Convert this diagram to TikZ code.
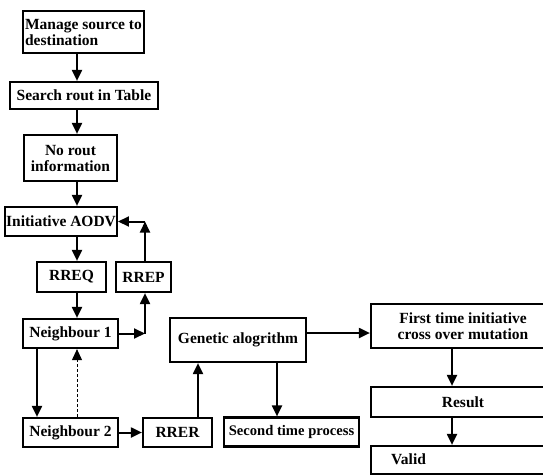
\documentclass[tikz,border=0pt]{standalone}
\usepackage{fontspec}
\setmainfont{Liberation Serif}
\usetikzlibrary{arrows.meta}
\begin{document}
\begin{tikzpicture}[x=1pt,y=-1pt,
  box/.style={draw,line width=2.2pt,inner sep=1pt,font=\bfseries\fontsize{15.5}{16}\selectfont,align=center},
  arr/.style={line width=2pt,-{Triangle[length=11pt,width=10pt]}},
  darr/.style={line width=1pt,densely dashed,-{Triangle[length=11pt,width=10pt]}}]
\useasboundingbox (0,0) rectangle (543,474);
\clip (0,0) rectangle (543,474);
\node[box,minimum width=121pt,minimum height=42pt,align=left] (ms) at (83.5,32) {Manage source to\\destination};
\node[box,minimum width=148pt,minimum height=27pt] (srch) at (84,95.5) {Search rout in Table};
\node[box,minimum width=93pt,minimum height=46pt] (nori) at (70.5,158) {No rout\\information};
\node[box,minimum width=110pt,minimum height=29pt] (aodv) at (61,221.5) {Initiative AODV};
\node[box,minimum width=69pt,minimum height=30pt] (rreq) at (71.5,277) {RREQ};
\node[box,minimum width=55pt,minimum height=30pt] (rrep) at (143.5,277) {RREP};
\node[box,minimum width=95pt,minimum height=29pt] (n1) at (70.5,333.5) {Neighbour 1};
\node[box,minimum width=95pt,minimum height=29pt] (n2) at (70.5,432.5) {Neighbour 2};
\node[box,minimum width=69pt,minimum height=29pt] (rrer) at (177.5,432.5) {RRER};
\node[box,minimum width=136pt,minimum height=44pt] (gen) at (238,340) {Genetic alogrithm};
\node[box,minimum width=135pt,minimum height=29pt,inner sep=0pt,font=\bfseries\fontsize{14.6}{16}\selectfont] (sec) at (291.5,432) {Second time process};
\node[box,minimum width=184pt,minimum height=44pt] (first) at (463,326) {First time initiative\\cross over mutation};
\node[box,minimum width=184pt,minimum height=30pt] (res) at (463,402) {Result};
\node[box,minimum width=184pt,minimum height=28pt] (valid) at (463,460) {};
\node[font=\bfseries\fontsize{15.5}{16}\selectfont,anchor=west,inner sep=0pt] (vt) at (391,459) {Valid};
\coordinate (cx) at (77,0);
\coordinate (cl) at (37,0);
\coordinate (k1) at (145,221.5);
\coordinate (k2) at (145,333.5);
\coordinate (cr) at (198,0);
\coordinate (cs) at (277,0);
\coordinate (cg) at (0,333);
\coordinate (cf) at (452,0);
\draw[arr] (ms.south -| cx) -- (srch.north -| cx);
\draw[arr] (srch.south -| cx) -- (nori.north -| cx);
\draw[arr] (nori.south -| cx) -- (aodv.north -| cx);
\draw[arr] (aodv.south -| cx) -- (rreq.north -| cx);
\draw[arr] (rreq.south -| cx) -- (n1.north -| cx);
\draw[arr] (rrep.north -| k1) -- (k1);
\draw[arr] (k1) -- (aodv.east);
\draw[arr] (n1.east) -- (k2);
\draw[arr] (k2) -- (rrep.south -| k2);
\draw[arr] (n1.south -| cl) -- (n2.north -| cl);
\draw[darr] (n2.north -| cx) -- (n1.south -| cx);
\draw[arr] (n2.east) -- (rrer.west);
\draw[arr] (rrer.north -| cr) -- (gen.south -| cr);
\draw[arr] (gen.south -| cs) -- (sec.north -| cs);
\draw[arr] (gen.east |- cg) -- (first.west |- cg);
\draw[arr] (first.south -| cf) -- (res.north -| cf);
\draw[arr] (res.south -| cf) -- (valid.north -| cf);
\end{tikzpicture}
\end{document}
